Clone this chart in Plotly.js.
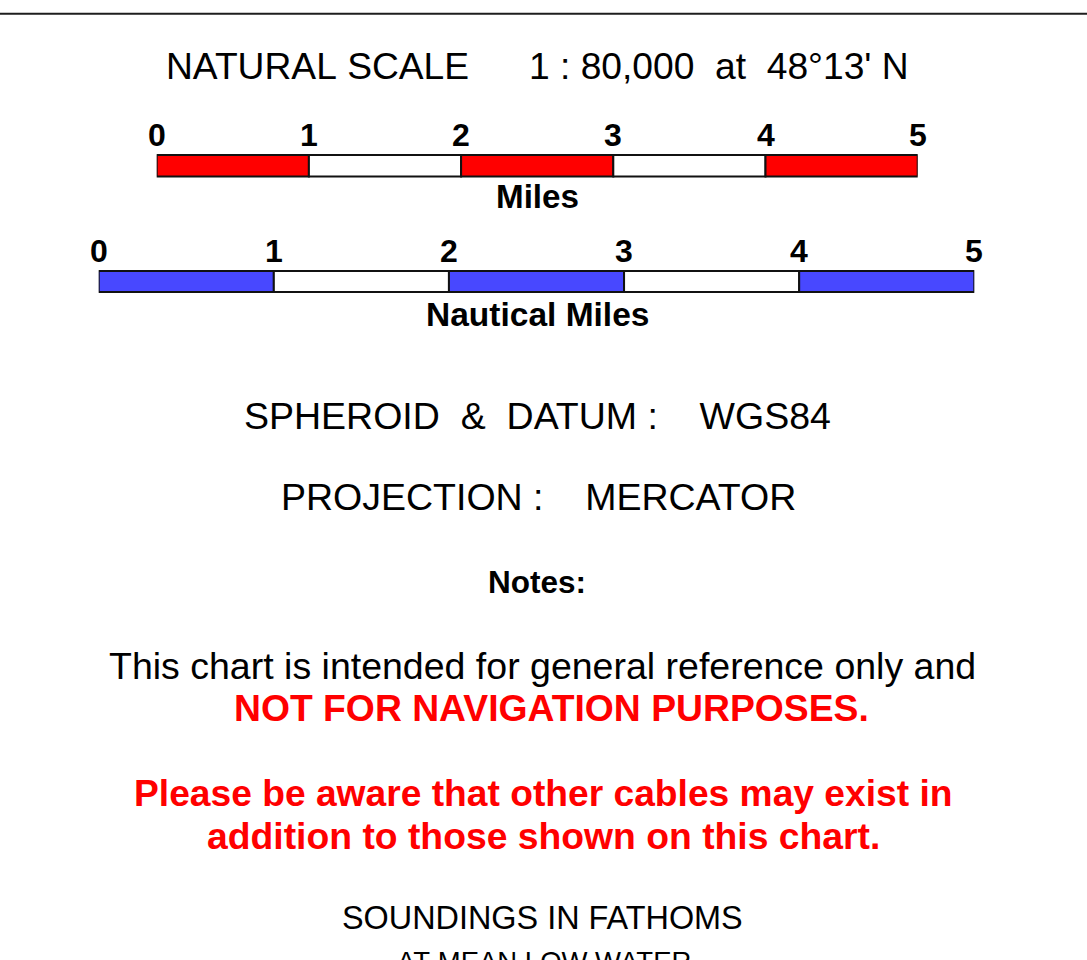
<!DOCTYPE html>
<html>
<head>
<meta charset="utf-8">
<script src="https://cdn.plot.ly/plotly-3.0.1.min.js"></script>
<style>html,body{margin:0;padding:0;background:#fff;}#chart{width:1087px;height:960px;}</style>
</head>
<body>
<div id="chart"></div>
<script>
// ---- data ----
const mileTicks = [0, 1, 2, 3, 4, 5];
const nauticalTicks = [0, 1, 2, 3, 4, 5];
const segmentStarts = [0, 1, 2, 3, 4];
const segmentLengths = [1, 1, 1, 1, 1];
const mileColors = ['#ff0000', '#ffffff', '#ff0000', '#ffffff', '#ff0000'];
const nauticalColors = ['#4848ff', '#ffffff', '#4848ff', '#ffffff', '#4848ff'];
const mileLabel = 'Miles';
const nauticalLabel = 'Nautical Miles';
const scaleTitle = 'NATURAL SCALE';
const scaleValue = '1 : 80,000  at  48°13\' N';
const datumLine = 'SPHEROID  &  DATUM :    WGS84';
const projectionLine = 'PROJECTION :    MERCATOR';
const notesTitle = 'Notes:';
const noteLine1 = 'This chart is intended for general reference only and';
const noteLine2 = 'NOT FOR NAVIGATION PURPOSES.';
const warnLine1 = 'Please be aware that other cables may exist in';
const warnLine2 = 'addition to those shown on this chart.';
const soundLine1 = 'SOUNDINGS IN FATHOMS';
const soundLine2 = 'AT MEAN LOW WATER';

// ---- layout helpers ----
const W = 1087, H = 960;
const FONT = 'Arial, "Liberation Sans", Helvetica, sans-serif';
const nb = s => s.replace(/ /g, '\u00a0');

const mileBarY = 165.8, mileBarH = 21.5;
const nautBarY = 281.4, nautBarH = 21;

const traces = [
  {
    type: 'bar', orientation: 'h',
    x: segmentLengths, base: segmentStarts,
    y: segmentStarts.map(() => mileBarY),
    width: segmentStarts.map(() => mileBarH),
    xaxis: 'x', yaxis: 'y',
    marker: {color: mileColors, line: {color: '#111111', width: 2}},
    hoverinfo: 'skip', showlegend: false
  },
  {
    type: 'bar', orientation: 'h',
    x: segmentLengths, base: segmentStarts,
    y: segmentStarts.map(() => nautBarY),
    width: segmentStarts.map(() => nautBarH),
    xaxis: 'x2', yaxis: 'y',
    marker: {color: nauticalColors, line: {color: '#111111', width: 2}},
    hoverinfo: 'skip', showlegend: false
  }
];

const ann = [];
function txt(text, x, y, size, opts) {
  opts = opts || {};
  const a = {
    text: nb(text), x: x, y: y,
    xref: opts.xref || 'paper', yref: 'y',
    xanchor: opts.xanchor || 'center', yanchor: 'middle',
    showarrow: false,
    font: {family: FONT, size: size, color: opts.color || '#000000', weight: opts.bold ? 'bold' : 'normal'}
  };
  if (opts.paperY) { a.yref = 'paper'; a.y = 1 - y / H; }
  ann.push(a);
}
const px = v => v / W;

txt(scaleTitle, px(317.3), 65.7, 37.2);
txt(scaleValue, px(719), 65.7, 37.2);

mileTicks.forEach(t => txt(String(t), t, 134.5, 32, {xref: 'x', bold: true}));
txt(mileLabel, px(537), 196.5, 33.2, {bold: true});
nauticalTicks.forEach(t => txt(String(t), t, 251, 32, {xref: 'x2', bold: true}));
txt(nauticalLabel, px(537), 314.5, 33.5, {bold: true});

txt(datumLine, px(537.5), 415.8, 37.5);
txt(projectionLine, px(538.5), 496.7, 37.5);
txt(notesTitle, px(537), 581.5, 31.5, {bold: true});
txt(noteLine1, px(542.5), 666, 37.5);
txt(noteLine2, px(551.5), 707.5, 37.3, {bold: true, color: '#ff0000'});
txt(warnLine1, px(543.5), 792.5, 37.2, {bold: true, color: '#ff0000'});
txt(warnLine2, px(543.5), 835.5, 37.3, {bold: true, color: '#ff0000'});
txt(soundLine1, px(542.5), 917.5, 32.4);
txt(soundLine2, px(543.5), 961.5, 27.5, {paperY: true});

const layout = {
  width: W, height: H,
  margin: {l: 0, r: 0, t: 0, b: 0, pad: 0},
  paper_bgcolor: '#ffffff', plot_bgcolor: 'rgba(0,0,0,0)',
  barmode: 'overlay',
  showlegend: false,
  xaxis: {domain: [156.7 / W, 917.7 / W], range: [0, 5], visible: false, fixedrange: true, anchor: 'y'},
  xaxis2: {domain: [98.7 / W, 974.3 / W], range: [0, 5], visible: false, fixedrange: true, anchor: 'y'},
  yaxis: {domain: [0, 1], range: [H, 0], visible: false, fixedrange: true, anchor: 'x'},
  shapes: [{type: 'line', xref: 'paper', x0: 0, x1: 1, yref: 'y', y0: 13.8, y1: 13.8,
            line: {color: '#1e1e1e', width: 2}}],
  annotations: ann
};

Plotly.newPlot('chart', traces, layout, {staticPlot: true, displayModeBar: false});
</script>
</body>
</html>
